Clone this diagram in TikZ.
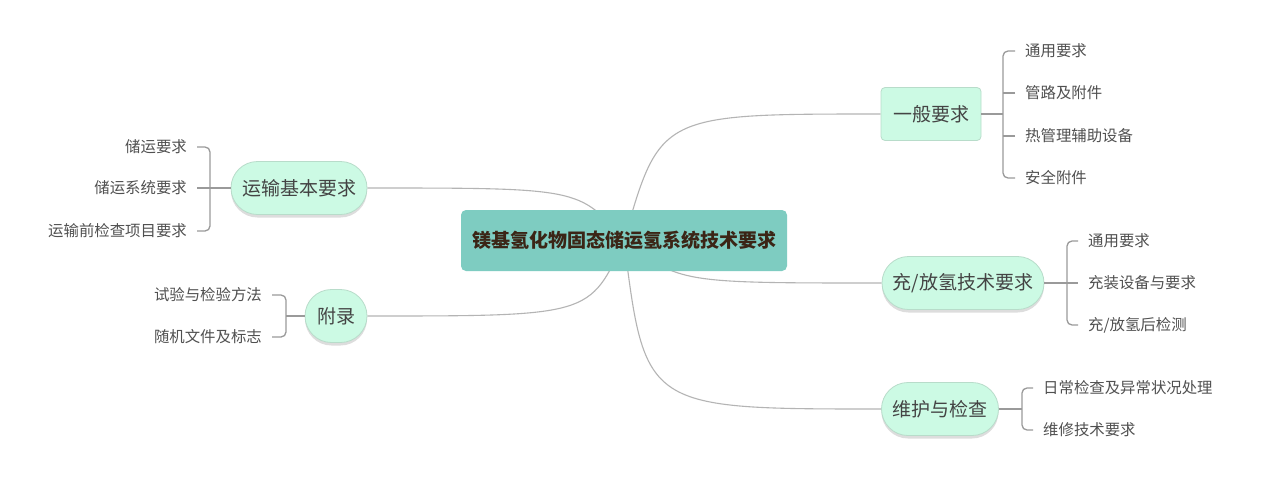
\documentclass[tikz,border=0pt]{standalone}
\usepackage{fontspec}
\setmainfont{Noto Sans CJK SC}
\usetikzlibrary{shadows,backgrounds}
\pgfdeclarelayer{bottom}
\pgfsetlayers{bottom,background,main}
\definecolor{centfill}{HTML}{7ECCC1}
\definecolor{centtext}{HTML}{3B2516}
\definecolor{mfill}{HTML}{CCFAE4}
\definecolor{mdraw}{HTML}{B8DCCA}
\definecolor{mtext}{HTML}{444444}
\definecolor{ltext}{HTML}{505050}
\definecolor{conncol}{HTML}{B4B4B4}
\definecolor{brcol}{HTML}{9A9A9A}
\begin{document}
\begin{tikzpicture}[x=1pt,y=-1pt,
 centnode/.style={fill=centfill, rounded corners=5pt, minimum width=326pt, minimum height=61pt, font=\fontsize{19}{22}\selectfont\bfseries, text=centtext, inner sep=0pt},
 topnode/.style={fill=mfill, draw=mdraw, line width=0.8pt, minimum height=53pt, font=\fontsize{19}{22}\selectfont, text=mtext, inner sep=0pt},
 pill/.style={topnode, rounded corners=26.5pt, drop shadow={shadow xshift=0pt, shadow yshift=-3pt, opacity=0.22, fill=black!60}},
 boxnode/.style={topnode, rounded corners=4pt},
 leafR/.style={anchor=west, inner xsep=10pt, inner ysep=0pt, font=\fontsize{15.4}{18}\selectfont, text=ltext, text height=13.5pt, text depth=1.9pt},
 leafL/.style={leafR, anchor=east},
 conn/.style={draw=conncol, line width=1.1pt},
 br/.style={draw=brcol, line width=1.3pt, rounded corners=5pt}]
\begin{pgfonlayer}{bottom}
\fill[white] (0,0) rectangle (1268,485);
\end{pgfonlayer}
\useasboundingbox (0,0) rectangle (1268,485);

\node[centnode] (c) at (624,240.5) {镁基氢化物固态储运氢系统技术要求};
\node[boxnode, minimum width=100pt] (g) at (931,114) {一般要求};
\node[pill, minimum width=136pt] (t) at (299,188) {运输基本要求};
\node[pill, minimum width=62pt] (f) at (336,316) {附录};
\node[pill, minimum width=162pt] (ch) at (963,283) {充/放氢技术要求};
\node[pill, minimum width=117pt] (w) at (940,409) {维护与检查};

% leaves
\node[leafR] (g1) at (1015,51) {通用要求};
\node[leafR] (g2) at (1015,93) {管路及附件};
\node[leafR] (g3) at (1015,136) {热管理辅助设备};
\node[leafR] (g4) at (1015,178) {安全附件};
\coordinate (gb) at (1003,114);

\node[leafL] (t1) at (197,147) {储运要求};
\node[leafL] (t2) at (197,188) {储运系统要求};
\node[leafL] (t3) at (197,231) {运输前检查项目要求};
\coordinate (tb) at (210,188);

\node[leafL] (f1) at (272,295) {试验与检验方法};
\node[leafL] (f2) at (272,337) {随机文件及标志};
\coordinate (fb) at (286,316);

\node[leafR] (ch1) at (1078,241) {通用要求};
\node[leafR] (ch2) at (1078,283) {充装设备与要求};
\node[leafR] (ch3) at (1078,325) {充/放氢后检测};
\coordinate (chb) at (1067,283);

\node[leafR] (w1) at (1033,388) {日常检查及异常状况处理};
\node[leafR] (w2) at (1033,430) {维修技术要求};
\coordinate (wb) at (1022,409);

% brackets
\draw[br] (g1.west) -- (g1.west -| gb) -- (g4.west -| gb) -- (g4.west);
\draw[br] (g2.west) -- (g2.west -| gb);
\draw[br] (g3.west) -- (g3.west -| gb);
\draw[br] (g.east) -- (gb);

\draw[br] (t1.east) -- (t1.east -| tb) -- (t3.east -| tb) -- (t3.east);
\draw[br] (t2.east) -- (t.west);

\draw[br] (f1.east) -- (f1.east -| fb) -- (f2.east -| fb) -- (f2.east);
\draw[br] (f.west) -- (fb);

\draw[br] (ch1.west) -- (ch1.west -| chb) -- (ch3.west -| chb) -- (ch3.west);
\draw[br] (ch.east) -- (ch2.west);

\draw[br] (w1.west) -- (w1.west -| wb) -- (w2.west -| wb) -- (w2.west);
\draw[br] (w.east) -- (wb);

% main connectors
\begin{pgfonlayer}{background}
\draw[conn] (c.center) .. controls (660,114) .. (g.west);
\draw[conn] (c.center) .. controls (680,283) .. (ch.west);
\draw[conn] (c.center) .. controls (645,409) .. (w.west);
\draw[conn] (c.center) .. controls (580,188) .. (t.east);
\draw[conn] (c.center) .. controls (590,316) .. (f.east);
\end{pgfonlayer}
\end{tikzpicture}
\end{document}
